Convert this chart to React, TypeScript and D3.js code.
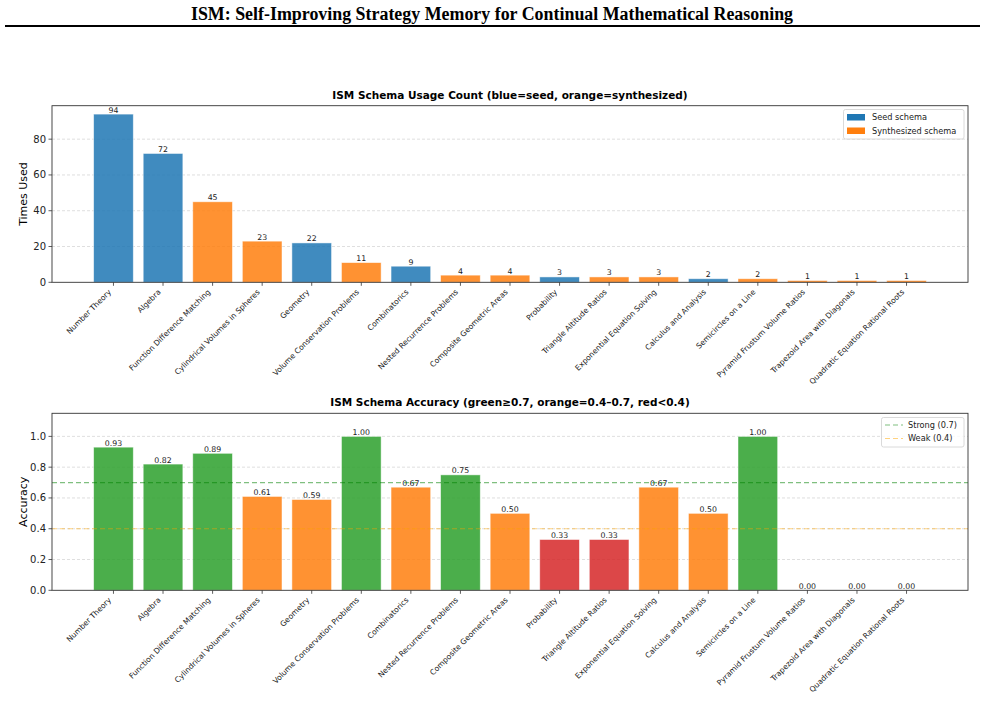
import React from "react";
import * as d3 from "d3";

const categories = [
  "Number Theory",
  "Algebra",
  "Function Difference Matching",
  "Cylindrical Volumes in Spheres",
  "Geometry",
  "Volume Conservation Problems",
  "Combinatorics",
  "Nested Recurrence Problems",
  "Composite Geometric Areas",
  "Probability",
  "Triangle Altitude Ratios",
  "Exponential Equation Solving",
  "Calculus and Analysis",
  "Semicircles on a Line",
  "Pyramid Frustum Volume Ratios",
  "Trapezoid Area with Diagonals",
  "Quadratic Equation Rational Roots",
];
const usageCounts = [94, 72, 45, 23, 22, 11, 9, 4, 4, 3, 3, 3, 2, 2, 1, 1, 1];
const isSeed = [true, true, false, false, true, false, true, false, false, true, false, false, true, false, false, false, false];
const accuracy = [0.93, 0.82, 0.89, 0.61, 0.59, 1.0, 0.67, 0.75, 0.5, 0.33, 0.33, 0.67, 0.5, 1.0, 0.0, 0.0, 0.0];
const usageTicks = [0, 20, 40, 60, 80];
const accTicks = [0, 0.2, 0.4, 0.6, 0.8, 1.0];

const BLUE = "#1f77b4";
const ORANGE = "#ff7f0e";
const GREEN = "#2ca02c";
const RED = "#d62728";

const W = 985;
const H = 723;
const axL = 52;
const axR = 968;
const FONT = "DejaVu Sans, sans-serif";

function Panel({
  top,
  bottom,
  values,
  colors,
  yMax,
  ticks,
  tickFmt,
  valFmt,
  yLabel,
  title,
  children,
}: any) {
  const x = d3.scaleLinear().domain([-1.24, categories.length - 1 + 1.24]).range([axL, axR]);
  const y = d3.scaleLinear().domain([0, yMax]).range([bottom, top]);
  const bw = x(0.8) - x(0);
  return (
    <g>
      <text x={(axL + axR) / 2} y={top - 7} textAnchor="middle" fontFamily={FONT} fontWeight="bold" fontSize={10.5} fill="#000">
        {title}
      </text>
      {ticks.filter((t: number) => t > 0).map((t: number) => (
        <line key={"g" + t} x1={axL} x2={axR} y1={y(t)} y2={y(t)} stroke="#b0b0b0" strokeOpacity={0.5} strokeWidth={0.8} strokeDasharray="3,2" />
      ))}
      {values.map((v: number, i: number) => (
        <rect
          key={"b" + i}
          x={x(i) - bw / 2}
          y={y(v)}
          width={bw}
          height={Math.max(0, y(0) - y(v))}
          fill={colors[i]}
          fillOpacity={0.85}
          stroke="#ffffff"
          strokeOpacity={0.6}
          strokeWidth={0.8}
        />
      ))}
      {values.map((v: number, i: number) => (
        <text key={"v" + i} x={x(i)} y={y(v) - 1.5} textAnchor="middle" fontFamily={FONT} fontSize={7.8} fill="#222">
          {valFmt(v)}
        </text>
      ))}
      {children && children(x, y)}
      <rect x={axL} y={top} width={axR - axL} height={bottom - top} fill="none" stroke="#333" strokeWidth={0.9} />
      {ticks.map((t: number) => (
        <g key={"t" + t}>
          <line x1={axL - 3.5} x2={axL} y1={y(t)} y2={y(t)} stroke="#333" strokeWidth={0.8} />
          <text x={axL - 6} y={y(t)} dy="0.35em" textAnchor="end" fontFamily={FONT} fontSize={10} fill="#222">
            {tickFmt(t)}
          </text>
        </g>
      ))}
      {categories.map((c, i) => (
        <g key={"x" + i}>
          <line x1={x(i)} x2={x(i)} y1={bottom} y2={bottom + 3.5} stroke="#333" strokeWidth={0.8} />
          <text
            transform={`translate(${x(i) - 5},${bottom + 7}) rotate(-45)`}
            textAnchor="end"
            dy="0.6em"
            fontFamily={FONT}
            fontSize={7.6}
            fill="#222"
          >
            {c}
          </text>
        </g>
      ))}
      <text
        transform={`translate(${23},${(top + bottom) / 2}) rotate(-90)`}
        textAnchor="middle"
        dy="0.35em"
        fontFamily={FONT}
        fontSize={11}
        fill="#000"
      >
        {yLabel}
      </text>
    </g>
  );
}

export default function App() {
  const usageColors = isSeed.map((s) => (s ? BLUE : ORANGE));
  const accColors = accuracy.map((a) => (a >= 0.7 ? GREEN : a >= 0.4 ? ORANGE : RED));
  return (
    <svg width={W} height={H} style={{ position: "absolute", left: 0, top: 0, background: "#fff" }}>
      <rect width={W} height={H} fill="#fff" />
      <text x={492} y={20} textAnchor="middle" fontFamily="Liberation Serif, Times New Roman, serif" fontWeight="bold" fontSize={17.9} fill="#000">
        ISM: Self-Improving Strategy Memory for Continual Mathematical Reasoning
      </text>
      <line x1={5} x2={980} y1={26} y2={26} stroke="#000" strokeWidth={2} />

      <Panel
        top={105.7}
        bottom={282.3}
        values={usageCounts}
        colors={usageColors}
        yMax={98.7}
        ticks={usageTicks}
        tickFmt={(t: number) => String(t)}
        valFmt={(v: number) => String(v)}
        yLabel="Times Used"
        title="ISM Schema Usage Count (blue=seed, orange=synthesized)"
      >
        {() => (
          <g>
            <rect x={843.5} y={109.5} width={120.5} height={29.5} rx={2} fill="#fff" fillOpacity={0.8} stroke="#d0d0d0" strokeWidth={0.8} />
            <rect x={847} y={114} width={18} height={6.5} fill={BLUE} />
            <text x={872} y={117.5} dy="0.35em" fontFamily={FONT} fontSize={8.2} fill="#222">Seed schema</text>
            <rect x={847} y={127.5} width={18} height={6.5} fill={ORANGE} />
            <text x={872} y={131} dy="0.35em" fontFamily={FONT} fontSize={8.2} fill="#222">Synthesized schema</text>
          </g>
        )}
      </Panel>

      <Panel
        top={413.3}
        bottom={590.3}
        values={accuracy}
        colors={accColors}
        yMax={1.15}
        ticks={accTicks}
        tickFmt={(t: number) => t.toFixed(1)}
        valFmt={(v: number) => v.toFixed(2)}
        yLabel="Accuracy"
        title="ISM Schema Accuracy (green≥0.7, orange=0.4–0.7, red<0.4)"
      >
        {(x: any, y: any) => (
          <g>
            <line x1={axL} x2={axR} y1={y(0.7)} y2={y(0.7)} stroke="green" strokeOpacity={0.5} strokeWidth={1.2} strokeDasharray="5,3" />
            <line x1={axL} x2={axR} y1={y(0.4)} y2={y(0.4)} stroke="orange" strokeOpacity={0.5} strokeWidth={1.2} strokeDasharray="5,3" />
            <rect x={881.5} y={417.5} width={82.5} height={29.5} rx={2} fill="#fff" fillOpacity={0.8} stroke="#d0d0d0" strokeWidth={0.8} />
            <line x1={885} x2={903} y1={425} y2={425} stroke="green" strokeOpacity={0.5} strokeWidth={1.2} strokeDasharray="5,3" />
            <text x={908} y={425} dy="0.35em" fontFamily={FONT} fontSize={8.2} fill="#222">Strong (0.7)</text>
            <line x1={885} x2={903} y1={438.5} y2={438.5} stroke="orange" strokeOpacity={0.5} strokeWidth={1.2} strokeDasharray="5,3" />
            <text x={908} y={438.5} dy="0.35em" fontFamily={FONT} fontSize={8.2} fill="#222">Weak (0.4)</text>
          </g>
        )}
      </Panel>
    </svg>
  );
}
